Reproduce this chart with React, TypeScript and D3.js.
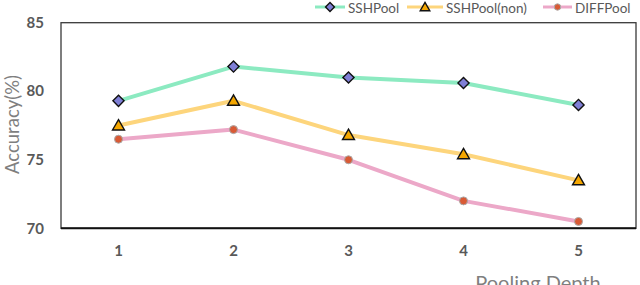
import React from "react";
import * as d3 from "d3";

const depths = [1, 2, 3, 4, 5];
const sshPool = [79.3, 81.8, 81.0, 80.6, 79.0];
const sshPoolNon = [77.5, 79.3, 76.8, 75.4, 73.5];
const diffPool = [76.5, 77.2, 75.0, 72.0, 70.5];
const yTicks = [70, 75, 80, 85];

const series = [
  { name: "SSHPool", values: sshPool, line: "#8ceac1", fill: "#7f7fd6", stroke: "#111", shape: "diamond" },
  { name: "SSHPool(non)", values: sshPoolNon, line: "#fdd57c", fill: "#f5a700", stroke: "#111", shape: "triangle" },
  { name: "DIFFPool", values: diffPool, line: "#eca8c8", fill: "#d95a35", stroke: "#a9a9a9", shape: "circle" },
];

const font = "Lato, 'Open Sans', sans-serif";

function Marker({ shape, x, y, fill, stroke, scale = 1 }: any) {
  if (shape === "diamond") {
    const p = d3.symbol(d3.symbolSquare, 62 * scale * scale)();
    return <path d={p!} transform={`translate(${x},${y}) rotate(45)`} fill={fill} stroke={stroke} strokeWidth={1.4} />;
  }
  if (shape === "triangle") {
    const p = d3.symbol(d3.symbolTriangle, 62 * scale * scale)();
    return <path d={p!} transform={`translate(${x},${y + 1})`} fill={fill} stroke={stroke} strokeWidth={1.4} />;
  }
  return <circle cx={x} cy={y} r={4 * scale} fill={fill} stroke={stroke} strokeWidth={1} />;
}

export default function App() {
  const width = 640;
  const height = 285;
  const left = 61;
  const right = 636;
  const top = 22.7;
  const bottom = 228.3;

  const x = d3.scaleBand<number>().domain(depths).range([left, right]);
  const cx = (d: number) => (x(d) as number) + x.bandwidth() / 2;
  const y = d3.scaleLinear().domain([70, 85]).range([bottom, top]);

  const line = d3
    .line<number>()
    .x((_, i) => cx(depths[i]))
    .y((v) => y(v));

  const legend = [
    { x0: 315, tx: 348 },
    { x0: 407, tx: 446 },
    { x0: 543, tx: 575 },
  ];

  return (
    <svg width={width} height={height} style={{ position: "absolute", left: 0, top: 0 }} fontFamily={font}>
      <rect x={0} y={0} width={width} height={height} fill="#fff" />
      {/* plot frame */}
      <rect x={left} y={top} width={right - left} height={bottom - top} fill="none" stroke="#3a3a3a" strokeWidth={1.3} />
      <line x1={left} x2={right} y1={bottom} y2={bottom} stroke="#111" strokeWidth={2} />

      {yTicks.map((t) => (
        <text key={t} x={44} y={y(t)} dy="0.35em" textAnchor="end" fontSize={15} fontWeight={700} fill="#595959">
          {t}
        </text>
      ))}
      {depths.map((d) => (
        <text key={d} x={cx(d)} y={256} textAnchor="middle" fontSize={15} fontWeight={700} fill="#595959">
          {d}
        </text>
      ))}

      <text
        transform={`translate(19,${124.5}) rotate(-90)`}
        textAnchor="middle"
        fontSize={18.5}
        fill="#7f7f7f"
      >
        Accuracy(%)
      </text>
      <text x={538} y={290} textAnchor="middle" fontSize={20} fill="#7f7f7f">
        Pooling Depth
      </text>

      {series.map((s) => (
        <g key={s.name}>
          <path d={line(s.values)!} fill="none" stroke={s.line} strokeWidth={4} strokeLinejoin="round" />
          {s.values.map((v, i) => (
            <Marker key={i} shape={s.shape} x={cx(depths[i])} y={y(v)} fill={s.fill} stroke={s.stroke} />
          ))}
        </g>
      ))}

      {series.map((s, i) => {
        const l = legend[i];
        const w = l.tx - 3 - l.x0;
        return (
          <g key={s.name}>
            <line x1={l.x0} x2={l.x0 + w} y1={7} y2={7} stroke={s.line} strokeWidth={3} />
            <Marker shape={s.shape} x={l.x0 + w / 2} y={7} fill={s.fill} stroke={s.stroke} scale={0.8} />
            <text x={l.tx} y={13} fontSize={13.5} fill="#595959">
              {s.name}
            </text>
          </g>
        );
      })}
    </svg>
  );
}
